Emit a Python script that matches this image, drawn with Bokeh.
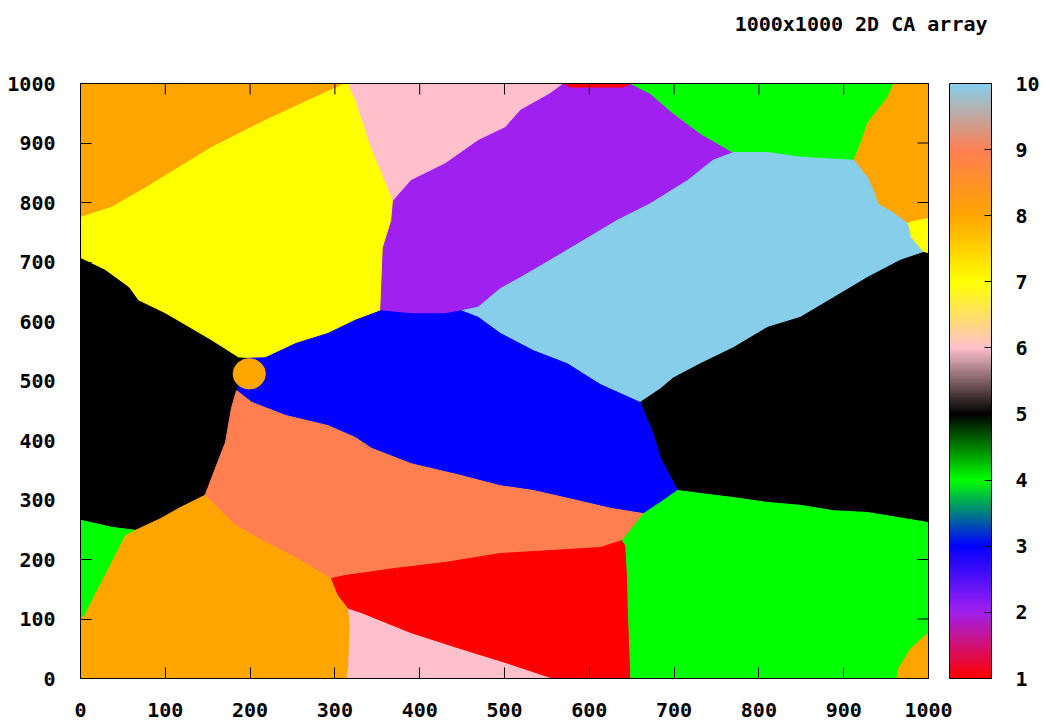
import math
from bokeh.plotting import figure
from bokeh.layouts import column
from bokeh.models import (Range1d, FixedTicker, LinearAxis, ColorBar,
                          LinearColorMapper, ColumnDataSource)
from bokeh.embed import file_html
from bokeh.resources import INLINE

# ---------------- data ----------------
title_text = "1000x1000 2D CA array"
x_ticks = [0, 100, 200, 300, 400, 500, 600, 700, 800, 900, 1000]
y_ticks = [0, 100, 200, 300, 400, 500, 600, 700, 800, 900, 1000]
cb_ticks = [1, 2, 3, 4, 5, 6, 7, 8, 9, 10]
# palette anchors for values 1..10 (gnuplot "defined" palette)
anchor_colors = ["#ff0000", "#a020f0", "#0000ff", "#00ff00", "#000000",
                 "#ffc0cb", "#ffff00", "#ffa500", "#ff7f50", "#87ceeb"]

# grain value (state) of each grain polygon
grain_value = [8, 7, 6, 2, 1, 4, 8, 7, 10, 5, 3, 5, 9, 4, 8, 6, 1, 4, 8]
grain_xs = [
    [0, 312, 218, 154, 77, 37, 0],
    [312, 316, 325, 343, 369, 367, 357, 354, 324, 292, 254, 218, 195, 186, 154, 100, 68, 57, 29, 0, 0, 37, 77, 154, 218],
    [316, 570, 554, 519, 501, 469, 430, 390, 369, 343, 325],
    [369, 390, 430, 469, 501, 519, 554, 570, 649, 672, 699, 731, 770, 746, 716, 672, 633, 593, 554, 519, 495, 469, 449, 430, 390, 354, 357, 367],
    [570, 578, 640, 649],
    [649, 959, 952, 940, 928, 920, 912, 908, 849, 810, 770, 731, 699, 672],
    [959, 1000, 1000, 987, 975, 959, 940, 935, 928, 912, 920, 928, 940, 952],
    [975, 987, 1000, 1000, 994, 979],
    [449, 469, 495, 519, 554, 593, 633, 672, 716, 746, 770, 810, 849, 912, 928, 935, 940, 959, 975, 979, 994, 967, 928, 888, 849, 810, 770, 731, 699, 684, 660, 613, 574, 534, 495, 469],
    [660, 684, 699, 731, 770, 810, 849, 888, 928, 967, 994, 1000, 1000, 928, 888, 849, 810, 770, 731, 704, 684, 676],
    [184, 202, 242, 292, 324, 343, 390, 449, 495, 534, 574, 625, 664, 684, 704, 684, 676, 660, 613, 574, 534, 495, 469, 449, 430, 390, 354, 324, 292, 254, 218, 195, 192],
    [0, 29, 57, 68, 100, 154, 186, 195, 192, 184, 178, 171, 159, 147, 116, 95, 65, 37, 0],
    [184, 202, 242, 292, 324, 343, 390, 449, 495, 534, 574, 625, 664, 639, 613, 554, 495, 430, 371, 312, 296, 289, 254, 218, 183, 147, 159, 171, 178],
    [0, 37, 65, 53, 37, 21, 5, 0],
    [0, 5, 21, 37, 53, 65, 95, 116, 147, 183, 218, 254, 289, 296, 304, 316, 318, 316, 314, 0],
    [314, 316, 318, 316, 331, 390, 449, 501, 558],
    [296, 304, 316, 331, 390, 449, 501, 558, 649, 646, 645, 643, 639, 613, 554, 495, 430, 371, 312],
    [639, 643, 645, 646, 649, 963, 965, 979, 1000, 1000, 928, 888, 849, 810, 770, 731, 704, 684, 664],
    [963, 1000, 1000, 979, 965],
]
grain_ys = [
    [1000, 1000, 938, 892, 825, 792, 775],
    [1000, 1000, 970, 892, 803, 770, 724, 618, 602, 580, 563, 539, 538, 539, 568, 613, 635, 657, 686, 706, 775, 792, 825, 892, 938],
    [1000, 1000, 983, 955, 926, 904, 865, 837, 803, 892, 970],
    [803, 837, 865, 904, 926, 955, 983, 1000, 1000, 983, 950, 916, 884, 871, 837, 798, 770, 736, 703, 674, 655, 624, 618, 613, 613, 618, 724, 770],
    [1000, 994, 994, 1000],
    [1000, 1000, 977, 955, 933, 899, 871, 871, 876, 884, 884, 916, 950, 983],
    [1000, 1000, 773, 770, 765, 782, 798, 820, 842, 871, 899, 933, 955, 977],
    [765, 770, 773, 714, 716, 741],
    [618, 624, 655, 674, 703, 736, 770, 798, 837, 871, 884, 884, 876, 871, 842, 820, 798, 782, 765, 741, 716, 703, 674, 640, 607, 590, 556, 529, 505, 487, 464, 494, 529, 551, 580, 607],
    [464, 487, 505, 529, 556, 590, 607, 640, 674, 703, 716, 714, 262, 279, 282, 291, 296, 304, 311, 316, 370, 408],
    [484, 464, 442, 425, 405, 387, 361, 341, 324, 316, 303, 286, 277, 296, 316, 370, 408, 464, 494, 529, 551, 580, 607, 618, 613, 613, 618, 602, 580, 563, 539, 538, 525],
    [706, 686, 657, 635, 613, 568, 539, 538, 525, 484, 454, 397, 353, 308, 286, 269, 249, 254, 266],
    [484, 464, 442, 425, 405, 387, 361, 341, 324, 316, 303, 286, 277, 232, 220, 215, 210, 195, 185, 173, 168, 173, 203, 229, 257, 308, 353, 397, 454],
    [266, 254, 249, 240, 195, 151, 106, 100],
    [100, 106, 151, 195, 240, 249, 269, 286, 308, 257, 229, 203, 173, 168, 140, 118, 89, 17, 0, 0],
    [0, 17, 89, 118, 111, 77, 50, 27, 0],
    [168, 140, 118, 111, 77, 50, 27, 0, 0, 118, 173, 224, 232, 220, 215, 210, 195, 185, 173],
    [232, 224, 173, 118, 0, 0, 17, 50, 77, 262, 279, 282, 291, 296, 304, 311, 316, 296, 277],
    [0, 0, 77, 50, 17],
]
# small round grain
blob_x = [199]
blob_y = [512]
blob_w = [38]
blob_h = [51]
blob_value = [8]

# ---------------- palette (linear interpolation between anchors) ----------------
def hex_to_rgb(h):
    return tuple(int(h[i:i + 2], 16) for i in (1, 3, 5))

steps = 28
palette = []
for i in range(9 * steps + 1):
    t = i / steps
    k = min(int(t), 8)
    f = t - k
    a = hex_to_rgb(anchor_colors[k])
    b = hex_to_rgb(anchor_colors[k + 1])
    c = tuple(int(round(a[j] + (b[j] - a[j]) * f)) for j in range(3))
    palette.append("#%02x%02x%02x" % c)

mapper = LinearColorMapper(palette=palette, low=1, high=10)

FONT = "DejaVu Sans Mono"
FS = "20px"
TOTAL_W = 1048
TITLE_H = 50

# ---------------- title strip (frame aligned with the map below) ----------------
tp = figure(width=TOTAL_W, height=TITLE_H,
            x_range=Range1d(0, 1000), y_range=Range1d(0, 1),
            min_border_left=80, min_border_right=TOTAL_W - 80 - 848,
            min_border_top=0, min_border_bottom=0,
            output_backend="svg", toolbar_location=None,
            x_axis_location=None, y_axis_location=None)
tp.grid.visible = False
tp.outline_line_color = None
tp.background_fill_color = "white"
tp.border_fill_color = "white"
tp.title.text = title_text
tp.title.align = "right"
tp.title.offset = -59
tp.title.standoff = 19
tp.title.text_font = FONT
tp.title.text_font_style = "bold"
tp.title.text_font_size = FS
tp.title.text_color = "black"

# ---------------- main map ----------------
p = figure(frame_width=848, frame_height=595,
           x_range=Range1d(0, 1000), y_range=Range1d(0, 1000),
           min_border_left=80, min_border_right=TOTAL_W - 80 - 848,
           min_border_top=83 - TITLE_H, min_border_bottom=44,
           output_backend="svg", toolbar_location=None,
           x_axis_location=None, y_axis_location=None)
p.grid.visible = False
p.outline_line_color = "black"
p.outline_line_alpha = 1.0
p.outline_line_width = 1
p.background_fill_color = "white"
p.border_fill_color = "white"

src = ColumnDataSource(dict(xs=grain_xs, ys=grain_ys, v=grain_value))
p.patches("xs", "ys", source=src,
          fill_color={"field": "v", "transform": mapper},
          line_color={"field": "v", "transform": mapper}, line_width=1)
bsrc = ColumnDataSource(dict(x=blob_x, y=blob_y, w=blob_w, h=blob_h, v=blob_value))
p.ellipse("x", "y", width="w", height="h", source=bsrc,
          fill_color={"field": "v", "transform": mapper},
          line_color={"field": "v", "transform": mapper}, line_width=1)

# inward mirror ticks on the top and right borders
p.ray(x=x_ticks, y=[1000] * len(x_ticks), length=11, length_units="screen",
      angle=-math.pi / 2, line_color="black", line_width=1)
p.ray(x=[1000] * len(y_ticks), y=y_ticks, length=11, length_units="screen",
      angle=math.pi, line_color="black", line_width=1)


def style_axis(ax, ticks, standoff):
    ax.ticker = FixedTicker(ticks=ticks)
    ax.major_tick_in = 11
    ax.major_tick_out = 0
    ax.minor_tick_line_color = None
    ax.major_tick_line_color = "black"
    ax.axis_line_color = "black"
    ax.major_label_text_font = FONT
    ax.major_label_text_font_style = "bold"
    ax.major_label_text_font_size = FS
    ax.major_label_text_color = "black"
    ax.major_label_standoff = standoff


ax_left = LinearAxis()
style_axis(ax_left, y_ticks, 25)
p.add_layout(ax_left, "left")

ax_bottom = LinearAxis()
style_axis(ax_bottom, x_ticks, 24)
p.add_layout(ax_bottom, "below")

# plain border lines on top / right (no ticks, no labels)
ax_top = LinearAxis(ticker=FixedTicker(ticks=[]), axis_line_color="black",
                    major_tick_line_color=None, minor_tick_line_color=None)
p.add_layout(ax_top, "above")
ax_right = LinearAxis(ticker=FixedTicker(ticks=[]), axis_line_color="black",
                      major_tick_line_color=None, minor_tick_line_color=None)
p.add_layout(ax_right, "right")

cb = ColorBar(color_mapper=mapper, ticker=FixedTicker(ticks=cb_ticks),
              width=42, height=595, padding=0, margin=0,
              location=(21, 0),
              label_standoff=24, major_tick_in=7, major_tick_out=0,
              major_tick_line_color="black", minor_tick_line_color=None,
              bar_line_color="black", border_line_color=None,
              background_fill_color=None,
              major_label_text_font=FONT, major_label_text_font_style="bold",
              major_label_text_font_size=FS, major_label_text_color="black")
p.add_layout(cb, "right")

layout = column(tp, p, spacing=0)
open("out.html", "w").write(file_html(layout, INLINE))
